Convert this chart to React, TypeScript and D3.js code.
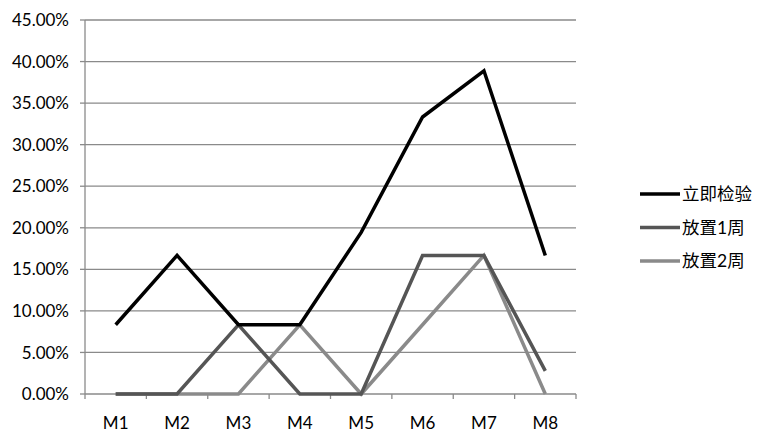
import React from "react";
import * as d3 from "d3";

const categories = ["M1", "M2", "M3", "M4", "M5", "M6", "M7", "M8"];
const seriesNames = ["立即检验", "放置1周", "放置2周"];
const immediate = [8.33, 16.67, 8.33, 8.33, 19.44, 33.33, 38.89, 16.67];
const week1 = [0, 0, 8.33, 0, 0, 16.67, 16.67, 2.78];
const week2 = [0, 0, 0, 8.33, 0, 8.33, 16.67, 0];
const yTicks = [0, 5, 10, 15, 20, 25, 30, 35, 40, 45];
const colors = ["#000000", "#555555", "#8a8a8a"];

const W = 763, H = 446;
const left = 85, right = 576, top = 20, bottom = 394;

export default function App() {
  const x = d3.scaleBand<string>().domain(categories).range([left, right]);
  const y = d3.scaleLinear().domain([0, 45]).range([bottom, top]);
  const line = d3
    .line<number>()
    .x((_, i) => (x(categories[i]) as number) + x.bandwidth() / 2)
    .y((d) => y(d));
  const data = [immediate, week1, week2];
  const font = "Lato, 'Noto Sans CJK SC', sans-serif";
  const cjkFont = "Lato, 'Noto Sans CJK SC', sans-serif";
  const boundaries = categories.map((c) => x(c) as number).concat([right]);
  return (
    <svg width={W} height={H} style={{ position: "absolute", left: 0, top: 0, background: "#fff" }}>
      <rect width={W} height={H} fill="#fff" />
      {yTicks.map((t) => (
        <g key={t}>
          <line x1={left} x2={right} y1={y(t)} y2={y(t)} stroke="#8a8a8a" strokeWidth={1.3} />
          <line x1={left - 5} x2={left} y1={y(t)} y2={y(t)} stroke="#8a8a8a" strokeWidth={1.3} />
          <text x={left - 16} y={y(t)} dy="0.36em" textAnchor="end" fontSize={17} fontFamily={font} fill="#000">
            {t.toFixed(2) + "%"}
          </text>
        </g>
      ))}
      <line x1={left} x2={left} y1={top} y2={bottom} stroke="#8a8a8a" strokeWidth={1.3} />
      {boundaries.map((b, i) => (
        <line key={i} x1={b} x2={b} y1={bottom} y2={bottom + 5} stroke="#8a8a8a" strokeWidth={1.3} />
      ))}
      {categories.map((c) => (
        <text key={c} x={(x(c) as number) + x.bandwidth() / 2} y={bottom + 29} dy="0.36em" textAnchor="middle" fontSize={17} fontFamily={font} fill="#000">
          {c}
        </text>
      ))}
      {data.map((d, i) => (
        <path key={i} d={line(d) || ""} fill="none" stroke={colors[i]} strokeWidth={3.5} strokeLinejoin="miter" />
      )).reverse()}
      {seriesNames.map((n, i) => {
        const ly = 194 + i * 33.5;
        return (
          <g key={n}>
            <line x1={640} x2={680} y1={ly} y2={ly} stroke={colors[i]} strokeWidth={3.5} />
            <text x={682} y={ly} dy="0.36em" fontSize={17.5} fontFamily={cjkFont} fill="#000">
              {n}
            </text>
          </g>
        );
      })}
    </svg>
  );
}
